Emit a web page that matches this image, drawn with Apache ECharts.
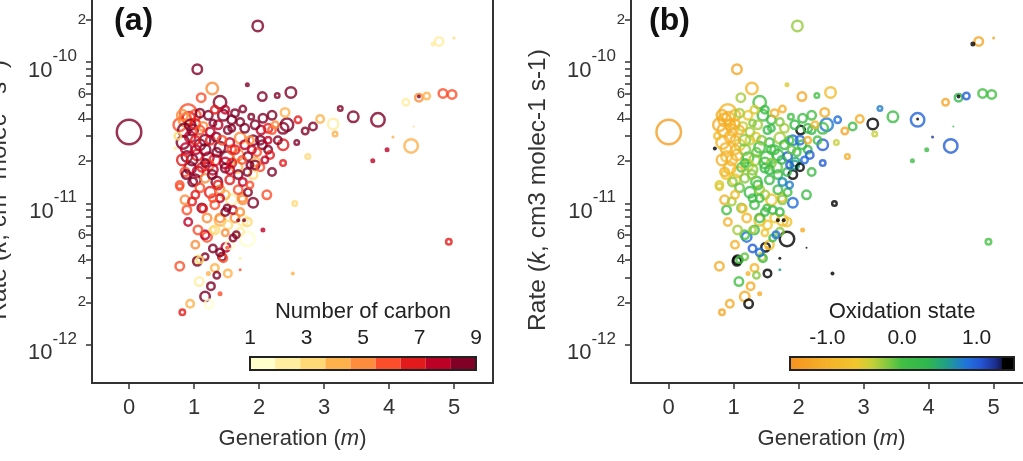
<!DOCTYPE html>
<html>
<head>
<meta charset="utf-8">
<script src="https://cdn.jsdelivr.net/npm/echarts@6/dist/echarts.min.js"></script>
<style>
  html, body { margin: 0; padding: 0; background: #fff; }
  #chart { width: 1023px; height: 461px; }
</style>
</head>
<body>
<div id="chart"></div>
<script>
// values: one entry per species
const generation = [
  0.00, 1.98, 4.77, 4.68, 5.00, 1.05, 1.82, 1.28, 2.05, 2.28,
  2.49, 1.11, 1.40, 3.25, 3.45, 3.83, 3.83, 4.34, 3.97, 3.75,
  4.06, 4.38, 4.26, 4.46, 4.58, 4.46, 4.83, 4.97, 4.92, 2.52,
  2.55, 2.06, 2.75, 3.17, 2.94, 3.14, 2.83, 2.71, 2.60, 2.40,
  2.37, 2.58, 2.37, 2.20, 2.37, 0.78, 2.12, 1.91, 0.89, 0.97,
  0.78, 0.82, 0.94, 1.17, 1.26, 1.35, 1.40, 1.17, 1.29, 1.20,
  1.43, 1.60, 1.82, 1.82, 1.08, 1.23, 1.52, 1.09, 1.63, 1.74,
  1.51, 1.40, 1.29, 1.60, 1.71, 2.12, 1.51, 1.14, 1.40, 1.12,
  1.29, 1.20, 1.40, 1.75, 1.17, 1.32, 1.48, 1.45, 1.06, 1.22,
  1.71, 1.68, 1.77, 1.65, 1.49, 1.05, 1.40,
  0.91, 0.92, 0.86, 1.22, 1.45, 1.75, 1.88, 2.06, 2.20, 2.43,
  0.78, 0.98, 1.14, 1.29, 1.58, 1.78, 2.03, 2.20, 0.83, 0.94,
  1.09, 1.25, 1.40, 1.55, 1.71, 1.91, 2.05, 0.89, 1.05, 1.22,
  1.35, 1.51, 1.68, 1.83, 1.97, 0.94, 1.12, 1.29, 1.48, 1.66,
  1.82, 2.02, 0.78, 0.98, 1.17, 1.35, 1.55, 1.75, 1.91, 0.71,
  1.09, 1.48, 1.63, 1.02, 0.75, 1.03, 1.34, 1.58, 1.89, 2.14,
  1.17, 1.58, 1.95, 0.86, 1.40, 1.83, 2.14,
  0.85, 0.88, 0.97, 1.06, 0.88, 1.02, 1.17, 1.25, 1.32, 1.28,
  1.43, 1.48, 1.52, 1.63, 1.68, 1.74, 1.86, 1.94, 2.09, 2.14,
  2.29, 2.25, 1.09, 1.25, 1.48, 1.68, 1.58, 1.02, 0.86, 1.32,
  1.48, 1.71, 1.86, 1.02, 1.32, 1.58, 1.94, 1.78, 0.82, 1.17,
  1.37, 0.94, 1.09, 0.82, 1.71, 2.02, 2.17, 1.22, 1.55, 1.02,
  1.37, 1.75, 1.86, 1.52, 1.06, 0.91, 1.55, 1.32, 1.02, 1.71
]
const rate = [
  3.2e-11, 1.8e-10, 1.4e-10, 1.34e-10, 1.48e-10, 8.9e-11, 6.9e-11, 6.5e-11, 5.7e-11, 5.8e-11,
  6.1e-11, 5.6e-11, 5.2e-11, 4.7e-11, 4.1e-11, 3.9e-11, 3.95e-11, 2.55e-11, 2.4e-11, 2.0e-11,
  2.95e-11, 3.5e-11, 5.2e-11, 5.6e-11, 5.75e-11, 5.7e-11, 6.0e-11, 5.9e-11, 5.35e-12, 3.2e-12,
  1.0e-11, 6.5e-12, 2.15e-11, 3.1e-11, 3.95e-11, 3.65e-11, 3.5e-11, 3.25e-11, 3.9e-11, 4.4e-11,
  3.4e-11, 2.7e-11, 1.93e-11, 1.67e-11, 2.6e-11, 1.31e-11, 1.15e-11, 1.01e-11, 9.0e-12, 1.03e-11,
  3.6e-12, 1.7e-12, 1.95e-12, 2.2e-12, 2.6e-12, 3.1e-12, 2.3e-12, 4.2e-12, 4.8e-12, 5.8e-12,
  4.2e-12, 5.7e-12, 7.4e-12, 5.6e-12, 2.8e-12, 1.95e-12, 3.2e-12, 4.0e-12, 7.9e-12, 1.1e-11,
  9.3e-12, 7.9e-12, 6.5e-12, 9.0e-12, 4.1e-12, 4.85e-12, 4.85e-12, 9.2e-12, 1.09e-11, 9.3e-12,
  1.09e-11, 7.9e-12, 7.6e-12, 7.6e-12, 6.0e-12, 6.5e-12, 6.2e-12, 4.1e-12, 4.0e-12, 3.2e-12,
  3.4e-12, 7.6e-12, 7.6e-12, 6.0e-12, 4.9e-12, 3.9e-12, 4.5e-12,
  4.4e-11, 4.0e-11, 3.9e-11, 4.2e-11, 4.2e-11, 4.65e-11, 4.1e-11, 4.0e-11, 4.2e-11, 3.6e-11,
  3.6e-11, 3.3e-11, 3.5e-11, 3.7e-11, 3.4e-11, 3.4e-11, 3.3e-11, 3.3e-11, 2.7e-11, 2.95e-11,
  2.6e-11, 2.8e-11, 2.5e-11, 2.7e-11, 2.9e-11, 2.8e-11, 2.6e-11, 2.15e-11, 2.2e-11, 2.1e-11,
  2.3e-11, 2.1e-11, 2.2e-11, 2.15e-11, 2.3e-11, 1.78e-11, 1.8e-11, 1.73e-11, 1.78e-11, 1.8e-11,
  1.67e-11, 1.8e-11, 1.35e-11, 1.42e-11, 1.51e-11, 1.42e-11, 1.47e-11, 1.42e-11, 1.6e-11, 2.45e-11,
  4.35e-11, 4.6e-11, 4.35e-11, 3.65e-11, 3.0e-11, 2.4e-11, 2.95e-11, 2.4e-11, 2.4e-11, 2.4e-11,
  1.93e-11, 1.93e-11, 1.96e-11, 1.67e-11, 1.25e-11, 1.2e-11, 2.8e-11,
  3.3e-11, 2.45e-11, 2.03e-11, 1.67e-11, 1.6e-11, 2.8e-11, 2.4e-11, 3.2e-11, 2.03e-11, 1.6e-11,
  2.8e-11, 1.93e-11, 3.3e-11, 2.4e-11, 1.6e-11, 2.03e-11, 2.8e-11, 1.87e-11, 2.03e-11, 3.4e-11,
  2.8e-11, 3.6e-11, 1.29e-11, 1.2e-11, 1.15e-11, 1.25e-11, 1.06e-11, 1.15e-11, 1.06e-11, 9.8e-12,
  8.7e-12, 8.7e-12, 1.35e-11, 4.2e-11, 4.6e-11, 3.9e-11, 3.6e-11, 2.6e-11, 2.03e-11, 2.8e-11,
  3.6e-11, 3.6e-11, 3.3e-11, 4.2e-11, 3.77e-11, 2.8e-11, 2.2e-11, 1.87e-11, 1.73e-11, 1.47e-11,
  1.35e-11, 1.06e-11, 1.87e-11, 7.05e-12, 6.5e-12, 7.4e-12, 5.1e-12, 3.5e-12, 5.1e-12, 6.3e-12
]
// bubble magnitude
const weight = [
  10.4, 4.8, 4.0, 2.0, 1.2, 4.4, 2.0, 5.2, 4.0, 2.4,
  4.8, 4.0, 5.6, 2.4, 4.8, 6.0, 1.2, 6.0, 2.0, 2.0,
  1.2, 0.8, 3.2, 3.6, 3.2, 1.6, 4.0, 4.0, 2.8, 1.6,
  2.4, 2.0, 2.4, 2.4, 3.6, 4.8, 3.6, 3.2, 3.2, 4.0,
  4.8, 2.4, 2.8, 3.6, 4.8, 3.2, 4.0, 4.4, 4.0, 3.6,
  4.0, 2.8, 3.6, 4.4, 3.6, 3.2, 2.0, 3.2, 3.6, 4.4,
  3.6, 3.2, 4.0, 6.4, 4.0, 4.0, 3.6, 3.2, 4.0, 4.0,
  3.2, 4.0, 3.2, 3.6, 1.2, 0.8, 1.6, 3.6, 3.6, 4.0,
  3.6, 4.0, 4.8, 4.8, 4.0, 4.0, 3.2, 3.6, 4.0, 2.0,
  1.2, 1.6, 1.6, 3.2, 4.0, 4.0, 3.6,
  7.2, 5.6, 5.6, 4.0, 4.8, 3.2, 2.8, 4.0, 4.0, 5.6,
  5.6, 4.8, 4.0, 3.2, 3.2, 4.0, 4.0, 3.6, 5.6, 4.8,
  4.8, 4.0, 4.8, 4.0, 4.8, 4.4, 4.0, 4.8, 4.8, 4.8,
  4.0, 5.6, 4.8, 4.0, 3.6, 5.2, 4.0, 4.4, 4.0, 4.8,
  3.6, 3.6, 3.6, 4.0, 4.0, 4.8, 4.0, 3.6, 4.0, 1.6,
  4.0, 3.6, 3.6, 4.4, 3.2, 4.0, 4.0, 4.0, 3.6, 3.6,
  3.6, 4.0, 4.0, 4.0, 4.0, 3.6, 3.2,
  5.6, 4.8, 4.8, 4.8, 4.0, 4.0, 4.8, 4.0, 4.8, 4.0,
  4.0, 4.8, 3.6, 4.0, 4.0, 3.6, 3.6, 4.0, 3.2, 4.0,
  3.6, 3.2, 4.0, 4.8, 4.0, 4.0, 4.8, 3.6, 4.0, 4.0,
  3.6, 3.6, 3.2, 4.8, 3.6, 4.0, 4.0, 4.0, 4.8, 4.8,
  4.0, 4.8, 4.0, 4.8, 3.6, 4.0, 3.6, 4.8, 4.0, 4.8,
  4.0, 4.0, 3.2, 4.0, 4.0, 3.6, 4.0, 3.6, 3.6, 3.6
]
const carbon = [
  9, 9, 2, 2, 3, 9, 9, 5, 9, 9,
  9, 6, 9, 9, 9, 9, 1, 4, 8, 8,
  4, 3, 2, 5, 4, 9, 6, 6, 7, 4,
  3, 8, 3, 4, 4, 2, 9, 9, 7, 4,
  9, 9, 7, 9, 7, 6, 6, 9, 6, 7,
  6, 7, 4, 9, 9, 9, 6, 9, 9, 6,
  9, 9, 3, 1, 2, 1, 4, 3, 5, 5,
  9, 5, 3, 8, 2, 1, 6, 7, 8, 9,
  6, 5, 4, 2, 8, 3, 5, 6, 2, 4,
  6, 9, 9, 9, 8, 9, 9,
  6, 7, 5, 9, 9, 9, 9, 9, 9, 9,
  6, 9, 5, 9, 9, 9, 8, 6, 9, 8,
  9, 7, 9, 8, 5, 9, 9, 9, 7, 8,
  9, 9, 5, 9, 6, 9, 7, 8, 9, 4,
  9, 6, 6, 9, 5, 9, 7, 8, 3, 2,
  9, 8, 9, 7, 3, 8, 9, 6, 8, 9,
  9, 7, 4, 6, 5, 9, 8,
  9, 8, 9, 8, 9, 7, 9, 8, 7, 9,
  6, 8, 9, 7, 9, 6, 5, 9, 8, 7,
  9, 5, 6, 7, 4, 6, 2, 7, 5, 6,
  9, 5, 6, 6, 7, 9, 9, 8, 7, 9,
  8, 9, 6, 5, 9, 9, 7, 6, 8, 9,
  7, 5, 9, 3, 6, 8, 1, 4, 5, 2
]
const oxidation = [
  -1.3, -0.25, -1.2, 1.45, -1.2, -1.2, -0.5, -0.9, -1.2, 0.0,
  -0.8, -0.3, 0.0, 0.8, 0.1, 0.95, 1.45, 1.0, 0.1, 0.1,
  1.2, 0.0, -1.2, 0.3, 1.0, 1.45, 0.0, 0.0, 0.0, 1.45,
  1.45, -1.1, -1.1, -0.4, -1.1, 1.45, 0.1, -1.2, 0.9, -1.1,
  0.0, -0.4, 1.0, 0.1, 1.0, -0.5, 0.1, 0.9, 0.0, -0.3,
  -1.1, -1.2, -1.1, -1.1, -1.1, -0.2, -1.1, -0.1, 1.0, 0.9,
  -0.4, 0.1, -0.7, 1.45, 0.0, 1.45, 1.45, 0.0, -0.6, -0.8,
  0.0, 0.1, -0.3, 0.2, 1.4, 1.4, -1.0, -0.8, 0.0, -0.2,
  0.1, -0.9, -0.7, -0.8, 0.0, 0.1, -0.6, 0.1, 1.45, -1.0,
  0.6, 1.45, 1.45, 0.9, 1.45, 1.45, 0.9,
  -0.9, -0.9, -1.0, -0.6, 0.0, -1.0, 0.0, 0.1, 0.0, 0.8,
  -1.1, -0.8, -0.4, -0.2, 0.1, -0.3, 1.45, 0.2, -0.9, -1.0,
  -0.5, -0.4, 0.0, 0.1, -0.3, 0.9, 0.2, -0.8, -0.9, 0.0,
  -0.1, 0.0, 0.2, 1.0, 0.1, -0.9, -0.1, -0.2, 0.1, -0.1,
  0.3, 1.45, -0.5, -0.2, -0.2, 0.0, 0.1, 0.7, 1.45, 1.45,
  -0.3, 0.1, -1.0, -1.0, -0.8, -0.9, -0.6, 0.0, -0.1, 0.2,
  0.0, -0.2, 0.5, -1.0, -0.3, 0.0, -1.1,
  -1.0, -1.0, -0.9, -0.8, -0.6, -1.0, -0.2, -0.3, -0.3, -0.2,
  -0.2, 0.0, 0.2, 0.0, 0.1, 0.3, 0.0, 0.6, 0.9, 0.1,
  0.0, -0.9, -0.1, 0.1, -0.3, 0.0, -0.7, -0.8, -1.0, 0.0,
  0.1, 0.2, 0.8, -0.9, -0.5, 0.1, 0.2, 0.1, -1.0, -0.2,
  -0.3, -1.1, -1.0, -1.1, -0.2, 0.9, 1.0, -0.4, 0.2, -0.5,
  0.0, -0.2, 1.0, -0.6, -0.3, -1.0, -0.7, -0.9, -1.0, -0.2
]

// axes / colour bars
const genTicks = [0, 1, 2, 3, 4, 5]
const decadeExponents = [-12, -11, -10]
const minorMantissas = [2, 3, 4, 5, 6, 7, 8, 9]
const labelMantissas = [2, 4, 6]
const carbonTicks = [1, 3, 5, 7, 9]
const carbonColors = ['#FFFFCC', '#FFEDA0', '#FED976', '#FEB24C', '#FD8D3C', '#FC4E2A', '#E31A1C', '#BD0026', '#800026']
const oxTicks = [-1.5, -1, -0.5, 0, 0.5, 1, 1.5]
const oxLabels = [-1, 0, 1]
const oxStops = [
  [-1.5, '#F5921E'], [-1.0, '#F5B22A'], [-0.6, '#F0C62E'], [-0.4, '#C6CF38'],
  [-0.2, '#86C940'], [0.0, '#42BF44'], [0.35, '#2FB650'], [0.6, '#1F9E8C'],
  [0.85, '#2074DC'], [1.05, '#2455D4'], [1.25, '#1B2C8C'], [1.32, '#15184E'],
  [1.33, '#000000'], [1.5, '#000000']
]

const yMin = -12.27
const yMax = -9.54
const fontFamily = '"Liberation Sans", Arial, sans-serif'
const ink = '#333'

const yTickValues = []
const yLabelValues = []
decadeExponents.forEach((d) => {
  yTickValues.push(d)
  yLabelValues.push(d)
  minorMantissas.forEach((m) => {
    const v = d + Math.log10(m)
    if (v <= yMax) {
      yTickValues.push(v)
      if (labelMantissas.indexOf(m) > -1) yLabelValues.push(v)
    }
  })
})

function hexToRgb(h) {
  const n = parseInt(h.slice(1), 16)
  return [(n >> 16) & 255, (n >> 8) & 255, n & 255]
}
function oxColor(v) {
  if (v <= oxStops[0][0]) return oxStops[0][1]
  for (let i = 1; i < oxStops.length; i++) {
    if (v <= oxStops[i][0]) {
      const a = hexToRgb(oxStops[i - 1][1])
      const b = hexToRgb(oxStops[i][1])
      const t = (v - oxStops[i - 1][0]) / (oxStops[i][0] - oxStops[i - 1][0])
      return 'rgb(' + a.map((x, k) => Math.round(x + (b[k] - x) * t)).join(',') + ')'
    }
  }
  return oxStops[oxStops.length - 1][1]
}
function carbonColor(c) {
  return carbonColors[Math.min(carbonColors.length - 1, Math.max(0, Math.round(c) - 1))]
}

// big bubbles first so small dots stay on top
const order = generation.map((g, i) => i).sort((a, b) => weight[b] - weight[a])
function buildPoints(values, colorOf) {
  return order.map((i) => {
    const c = colorOf(values[i])
    const w = weight[i]
    const filled = w <= 2
    return {
      value: [generation[i], Math.log10(rate[i])],
      symbolSize: filled ? w * 2.5 : w * 2.5 - 1.5,
      itemStyle: {
        color: filled ? c : 'rgba(0,0,0,0)',
        borderColor: c,
        borderWidth: filled ? 0 : 2.5
      }
    }
  })
}

function yLabel(v) {
  const d = Math.floor(v + 1e-6)
  const m = Math.round(Math.pow(10, v - d))
  return m === 1 ? '{b|10}{e|' + d + '}' : '{m|' + m + '}'
}

function mainX(gridIndex, min, max) {
  return {
    type: 'value', gridIndex: gridIndex, min: min, max: max,
    axisLine: { show: true, onZero: false, lineStyle: { color: ink, width: 2 } },
    axisTick: { show: true, customValues: genTicks, length: 6, lineStyle: { color: ink, width: 1.5 } },
    axisLabel: { customValues: genTicks, fontSize: 22, color: ink, margin: 14, fontFamily: fontFamily },
    splitLine: { show: false },
    name: '{t|Generation (}{i|m}{t|)}',
    nameLocation: 'middle',
    nameGap: 45,
    nameTextStyle: {
      rich: {
        t: { fontSize: 22, color: ink, fontFamily: fontFamily },
        i: { fontSize: 22, color: ink, fontStyle: 'italic', fontFamily: fontFamily }
      }
    }
  }
}

function mainY(gridIndex, name) {
  return {
    type: 'value', gridIndex: gridIndex, min: yMin, max: yMax,
    axisLine: { show: true, onZero: false, lineStyle: { color: ink, width: 2 } },
    axisTick: { show: true, customValues: yTickValues, length: 6, lineStyle: { color: ink, width: 1.5 } },
    axisLabel: {
      customValues: yLabelValues,
      formatter: yLabel,
      margin: 6,
      color: ink,
      rich: {
        b: { fontSize: 22, lineHeight: 29, padding: [12, 0, 0, 0], color: ink, verticalAlign: 'top', fontFamily: fontFamily },
        e: { fontSize: 17, lineHeight: 17, padding: [0, 9, 0, 0], color: ink, verticalAlign: 'top', fontFamily: fontFamily },
        m: { fontSize: 15, lineHeight: 18, color: ink, fontFamily: fontFamily }
      }
    },
    splitLine: { show: false },
    name: name,
    nameLocation: 'middle',
    nameGap: 80,
    nameTextStyle: {
      rich: {
        t: { fontSize: 24.5, lineHeight: 26, color: ink, verticalAlign: 'bottom', fontFamily: fontFamily },
        i: { fontSize: 24.5, lineHeight: 26, color: ink, fontStyle: 'italic', verticalAlign: 'bottom', fontFamily: fontFamily },
        s: { fontSize: 15, lineHeight: 15, color: ink, verticalAlign: 'top', fontFamily: fontFamily }
      }
    }
  }
}

function barX(gridIndex, ticks, labels, name, formatter) {
  return {
    type: 'value', gridIndex: gridIndex, position: 'top',
    min: ticks[0], max: ticks[ticks.length - 1],
    axisLine: { show: false },
    axisTick: { show: true, customValues: ticks, length: 5, lineStyle: { color: '#222', width: 1.5 } },
    axisLabel: { customValues: labels, formatter: formatter, fontSize: 21, color: '#222', margin: 8, fontFamily: fontFamily },
    splitLine: { show: false },
    name: name,
    nameLocation: 'middle',
    nameGap: 34,
    nameTextStyle: { fontSize: 22, color: '#222', fontFamily: fontFamily }
  }
}
function barY(gridIndex) {
  return { type: 'value', gridIndex: gridIndex, min: 0, max: 1, show: false }
}

const carbonBins = carbonColors.map((c, i) => {
  const lo = carbonTicks[0]
  const span = carbonTicks[carbonTicks.length - 1] - lo
  return [lo + span * i / carbonColors.length, lo + span * (i + 1) / carbonColors.length]
})

function rectBetween(api, x0, x1) {
  const p0 = api.coord([x0, 1])
  const p1 = api.coord([x1, 0])
  return { x: p0[0], y: p0[1], width: p1[0] - p0[0], height: p1[1] - p0[1] }
}

const oxGradient = new echarts.graphic.LinearGradient(0, 0, 1, 0, oxStops.map((s) => ({
  offset: (s[0] - oxTicks[0]) / (oxTicks[oxTicks.length - 1] - oxTicks[0]),
  color: s[1]
})))

const chart = echarts.init(document.getElementById('chart'), null, { renderer: 'canvas' })
chart.setOption({
  animation: false,
  backgroundColor: '#fff',
  textStyle: { fontFamily: fontFamily },
  grid: [
    { left: 92, top: -3, width: 401, height: 386, show: true, borderColor: ink, borderWidth: 2, backgroundColor: 'transparent', outerBoundsMode: 'none' },
    { left: 631, top: -3, width: 401, height: 386, show: true, borderColor: ink, borderWidth: 2, backgroundColor: 'transparent', outerBoundsMode: 'none' },
    { left: 250, top: 357, width: 226, height: 13, outerBoundsMode: 'none' },
    { left: 790, top: 357, width: 224, height: 13, outerBoundsMode: 'none' }
  ],
  xAxis: [
    mainX(0, -0.57, 5.6),
    mainX(1, -0.58, 5.59),
    barX(2, carbonTicks, carbonTicks, 'Number of carbon', (v) => String(v)),
    barX(3, oxTicks, oxLabels, 'Oxidation state', (v) => v.toFixed(1))
  ],
  yAxis: [
    mainY(0, '{t|Rate (}{i|k}{t|, cm}{s|3}{t| molec}{s|-1}{t| s}{s|-1}{t|)}'),
    mainY(1, '{t|Rate (}{i|k}{t|, cm3 molec-1 s-1)}'),
    barY(2),
    barY(3)
  ],
  graphic: [
    { type: 'text', left: 114, top: 5, style: { text: '(a)', font: 'bold 32px ' + fontFamily, fill: '#111' } },
    { type: 'text', left: 649, top: 5, style: { text: '(b)', font: 'bold 32px ' + fontFamily, fill: '#111' } }
  ],
  series: [
    {
      type: 'scatter', xAxisIndex: 0, yAxisIndex: 0, symbol: 'circle',
      data: buildPoints(carbon, carbonColor), silent: true
    },
    {
      type: 'scatter', xAxisIndex: 1, yAxisIndex: 1, symbol: 'circle',
      data: buildPoints(oxidation, oxColor), silent: true
    },
    {
      type: 'custom', xAxisIndex: 2, yAxisIndex: 2, silent: true,
      data: carbonBins,
      renderItem: (params, api) => ({
        type: 'rect',
        shape: rectBetween(api, api.value(0), api.value(1)),
        style: { fill: carbonColors[params.dataIndex] }
      })
    },
    {
      type: 'custom', xAxisIndex: 2, yAxisIndex: 2, silent: true, z: 5,
      data: [[carbonTicks[0], carbonTicks[carbonTicks.length - 1]]],
      renderItem: (params, api) => ({
        type: 'rect',
        shape: rectBetween(api, api.value(0), api.value(1)),
        style: { fill: 'none', stroke: '#222', lineWidth: 2 }
      })
    },
    {
      type: 'custom', xAxisIndex: 3, yAxisIndex: 3, silent: true,
      data: [[oxTicks[0], oxTicks[oxTicks.length - 1]]],
      renderItem: (params, api) => ({
        type: 'rect',
        shape: rectBetween(api, api.value(0), api.value(1)),
        style: { fill: oxGradient, stroke: '#222', lineWidth: 2 }
      })
    }
  ]
})
</script>
</body>
</html>
